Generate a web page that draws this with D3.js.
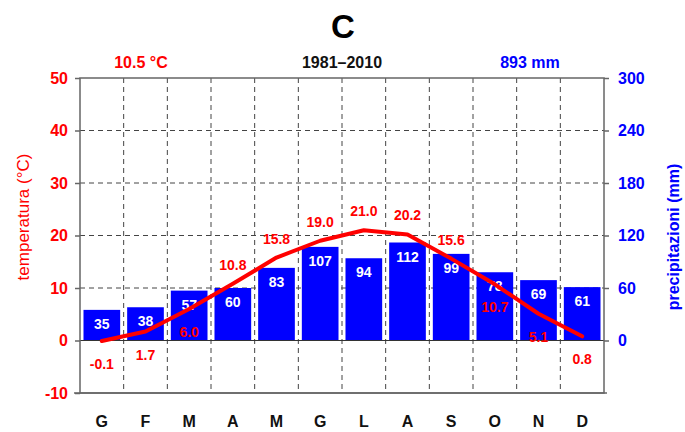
<!DOCTYPE html>
<html><head><meta charset="utf-8">
<script src="https://cdn.jsdelivr.net/npm/d3@7"></script>
<style>body{margin:0;background:#fff}svg{display:block}text{font-family:"Liberation Sans",Arial,sans-serif}</style>
</head><body><svg id="c" width="685" height="432"></svg>
<script>
const months = ["G","F","M","A","M","G","L","A","S","O","N","D"];
const temperature = [-0.1,1.7,6.0,10.8,15.8,19.0,21.0,20.2,15.6,10.7,5.1,0.8];
const precipitation = [35,38,57,60,83,107,94,112,99,78,69,61];
const tempTicks = [-10,0,10,20,30,40,50];
const precTicks = [0,60,120,180,240,300];
const title = "C";
const meanTempText = "10.5 °C";
const periodText = "1981–2010";
const totalPrecText = "893 mm";

const svg = d3.select("#c");
const L = 80, R = 604, T = 78, B = 393;
const idx = months.map((d,i)=>i);
const x = d3.scaleBand().domain(idx).range([L,R]).paddingInner(0.16).paddingOuter(0.08);
const step = x.step();
const yT = d3.scaleLinear().domain([-10,50]).range([B,T]);
const yP = d3.scaleLinear().domain([0,300]).range([yT(0),yT(50)]);
const axisCol = "#666", gridCol = "#444";

// horizontal grid
svg.append("g").selectAll("line").data(tempTicks.filter(t=>t>0 && t<50)).join("line")
  .attr("x1",L).attr("x2",R).attr("y1",d=>yT(d)).attr("y2",d=>yT(d))
  .attr("stroke",gridCol).attr("stroke-width",1).attr("stroke-dasharray","5,4");
// vertical grid at month boundaries
svg.append("g").selectAll("line").data(d3.range(1,12)).join("line")
  .attr("x1",i=>L+i*step).attr("x2",i=>L+i*step).attr("y1",T).attr("y2",B)
  .attr("stroke",gridCol).attr("stroke-width",1).attr("stroke-dasharray","5,4");

// bars
svg.append("g").selectAll("rect").data(precipitation).join("rect")
  .attr("x",(d,i)=>x(i)).attr("width",x.bandwidth())
  .attr("y",d=>yP(d)).attr("height",d=>yP(0)-yP(d))
  .attr("fill","#0000ff");
svg.append("g").selectAll("text").data(precipitation).join("text")
  .attr("x",(d,i)=>x(i)+x.bandwidth()/2).attr("y",d=>yP(d)+19)
  .attr("text-anchor","middle").attr("fill","#fff").attr("font-weight","bold")
  .attr("font-size",14).text(d=>d);

// zero line
svg.append("line").attr("x1",L).attr("x2",R).attr("y1",yT(0)).attr("y2",yT(0))
  .attr("stroke","#333").attr("stroke-width",1.2);

// frame
svg.append("rect").attr("x",L).attr("y",T).attr("width",R-L).attr("height",B-T)
  .attr("fill","none").attr("stroke",axisCol).attr("stroke-width",1.5);

// axes
const la = d3.axisLeft(yT).tickValues(tempTicks).tickFormat(d=>String(d)).tickSize(5).tickPadding(7);
const gl = svg.append("g").attr("transform",`translate(${L},0)`).call(la);
gl.select(".domain").remove();
gl.selectAll("line").attr("stroke",axisCol).attr("stroke-width",1.5);
gl.selectAll("text").attr("fill","#ff0000").attr("font-size",16).attr("font-weight","bold")
  .attr("font-family","Liberation Sans, Arial, sans-serif");
const ra = d3.axisRight(yP).tickValues(precTicks).tickFormat(d=>String(d)).tickSize(5).tickPadding(9);
const gr = svg.append("g").attr("transform",`translate(${R},0)`).call(ra);
gr.select(".domain").remove();
gr.selectAll("line").attr("stroke",axisCol).attr("stroke-width",1.5);
gr.selectAll("text").attr("fill","#0000ff").attr("font-size",16).attr("font-weight","bold")
  .attr("font-family","Liberation Sans, Arial, sans-serif");
// bottom corner ticks
svg.append("line").attr("x1",L-6).attr("x2",R+3).attr("y1",B).attr("y2",B).attr("stroke",axisCol).attr("stroke-width",1.5);

// month labels
svg.append("g").selectAll("text").data(months).join("text")
  .attr("x",(d,i)=>x(i)+x.bandwidth()/2).attr("y",427)
  .attr("text-anchor","middle").attr("font-weight","bold").attr("font-size",16)
  .attr("fill","#111").text(d=>d);

// temperature line
const line = d3.line().x((d,i)=>x(i)+x.bandwidth()/2).y(d=>yT(d));
svg.append("path").datum(temperature).attr("d",line)
  .attr("fill","none").attr("stroke","#ff0000").attr("stroke-width",4)
  .attr("stroke-linejoin","round").attr("stroke-linecap","round");

// temperature labels
svg.append("g").selectAll("text").data(temperature).join("text")
  .attr("x",(d,i)=>x(i)+x.bandwidth()/2)
  .attr("y",(d,i)=>{
    const rising = i>0 ? d>temperature[i-1] : true;
    const above = d>=15 || (d>=10 && rising);
    return above ? yT(d)-14 : yT(d)+28;
  })
  .attr("text-anchor","middle").attr("fill","#ff0000").attr("font-weight","bold")
  .attr("font-size",14).text(d=>d.toFixed(1));

// titles
svg.append("text").attr("x",343).attr("y",38).attr("text-anchor","middle")
  .attr("font-size",33).attr("font-weight","bold").attr("fill","#000").text(title);
svg.append("text").attr("x",141).attr("y",68).attr("text-anchor","middle")
  .attr("font-size",16).attr("font-weight","bold").attr("fill","#ff0000").text(meanTempText);
svg.append("text").attr("x",342).attr("y",68).attr("text-anchor","middle")
  .attr("font-size",16).attr("font-weight","bold").attr("fill","#111").text(periodText);
svg.append("text").attr("x",530).attr("y",68).attr("text-anchor","middle")
  .attr("font-size",16).attr("font-weight","bold").attr("fill","#0000ff").text(totalPrecText);
svg.append("text").attr("transform","translate(29,217) rotate(-90)").attr("text-anchor","middle")
  .attr("font-size",17).attr("fill","#ff0000").text("temperatura (°C)");
svg.append("text").attr("transform","translate(679,237) rotate(-90)").attr("text-anchor","middle")
  .attr("font-size",16).attr("font-weight","bold").attr("fill","#0000ff").text("precipitazioni (mm)");
</script></body></html>
